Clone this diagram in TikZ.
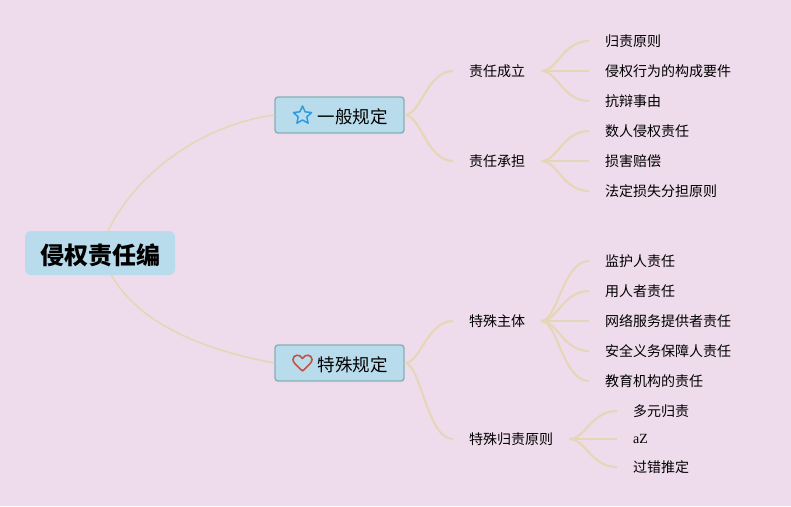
\documentclass[tikz,border=0pt]{standalone}
\usepackage{fontspec}
\setmainfont{Noto Sans CJK SC}
\newfontfamily\latinserif{Liberation Serif}
\definecolor{bgPink}{HTML}{EEDCEC}
\definecolor{boxBlue}{HTML}{B9DCEC}
\definecolor{boxEdge}{HTML}{84B0B6}
\definecolor{lineSand}{HTML}{E6D6B8}
\definecolor{iconBlue}{HTML}{2E9BE0}
\definecolor{iconRed}{HTML}{C8503F}
\usetikzlibrary{shapes.geometric}

\begin{document}
\begin{tikzpicture}[
        x=1pt, y=-1pt,
        rootbox/.style={fill=boxBlue, rounded corners=6pt, minimum width=150pt, minimum height=44pt, inner sep=0pt, font=\fontsize{24}{24}\selectfont\bfseries},
        mainbox/.style={fill=boxBlue, draw=boxEdge, line width=1.4pt, rounded corners=3pt, minimum width=129pt, minimum height=36pt, inner sep=0pt, font=\fontsize{17.5}{18}\selectfont},
        leaf/.style={anchor=west, inner xsep=16pt, inner ysep=2pt, font=\fontsize{14}{14}\selectfont},
        rootline/.style={draw=lineSand, line width=1.6pt},
        branch/.style={draw=lineSand, line width=2.1pt}
      ]
        \path[fill=bgPink, use as bounding box] (0,0) rectangle (791,506);

        \node[rootbox, text depth=0pt, text height=22pt] (root) at (100,253) {侵权责任编};
        \node[mainbox, text depth=0pt, text height=16pt] (general) at (339.5,115) {\hspace*{26pt}一般规定};
        \node[mainbox, text depth=0pt, text height=16pt] (special) at (339.5,363) {\hspace*{26pt}特殊规定};

        % icons
        \node[star, star points=5, star point ratio=2.1, draw=iconBlue, line width=1.5pt, line join=round, minimum size=19pt, inner sep=0pt] (staricon) at (302.5,115.5) {};
        \draw[iconRed, line width=1.6pt, line join=round] (302.5,371) .. controls (296,365) and (293,362.5) .. (293,359.5)
          .. controls (293,354.5) and (300,353.5) .. (302.5,358.5)
          .. controls (305,353.5) and (312,354.5) .. (312,359.5)
          .. controls (312,362.5) and (309,365) .. (302.5,371);

        \node[leaf] (found) at (453,71) {责任成立};
        \node[leaf] (bear) at (453,161) {责任承担};
        \node[leaf] (subject) at (453,321) {特殊主体};
        \node[leaf] (doctrine) at (453,439) {特殊归责原则};

        \node[leaf] (a1) at (589,41) {归责原则};
        \node[leaf] (a2) at (589,71) {侵权行为的构成要件};
        \node[leaf] (a3) at (589,101) {抗辩事由};
        \node[leaf] (b1) at (589,131) {数人侵权责任};
        \node[leaf] (b2) at (589,161) {损害赔偿};
        \node[leaf] (b3) at (589,191) {法定损失分担原则};
        \node[leaf] (c1) at (589,261) {监护人责任};
        \node[leaf] (c2) at (589,291) {用人者责任};
        \node[leaf] (c3) at (589,321) {网络服务提供者责任};
        \node[leaf] (c4) at (589,351) {安全义务保障人责任};
        \node[leaf] (c5) at (589,381) {教育机构的责任};
        \node[leaf] (d1) at (617,411) {多元归责};
        \node[leaf] (d2) at (617,439) {\latinserif aZ};
        \node[leaf] (d3) at (617,467) {过错推定};

        \draw[rootline] (root.70) .. controls (135,175) and (200,125) .. (general.west);
        \draw[rootline] (root.-63) .. controls (140,325) and (205,350) .. (special.west);

        \foreach \from/\to in {general/found, general/bear, special/subject, special/doctrine}
          \draw[branch] (\from.east) .. controls +(16,0) and +(-26,0) .. (\to.west);
        \foreach \from/\to in {found/a1, found/a2, found/a3, bear/b1, bear/b2, bear/b3, subject/c1, subject/c2, subject/c3, subject/c4, subject/c5, doctrine/d1, doctrine/d2, doctrine/d3}
          \draw[branch] (\from.east) .. controls +(16,0) and +(-26,0) .. (\to.west);
      \end{tikzpicture}
\end{document}
